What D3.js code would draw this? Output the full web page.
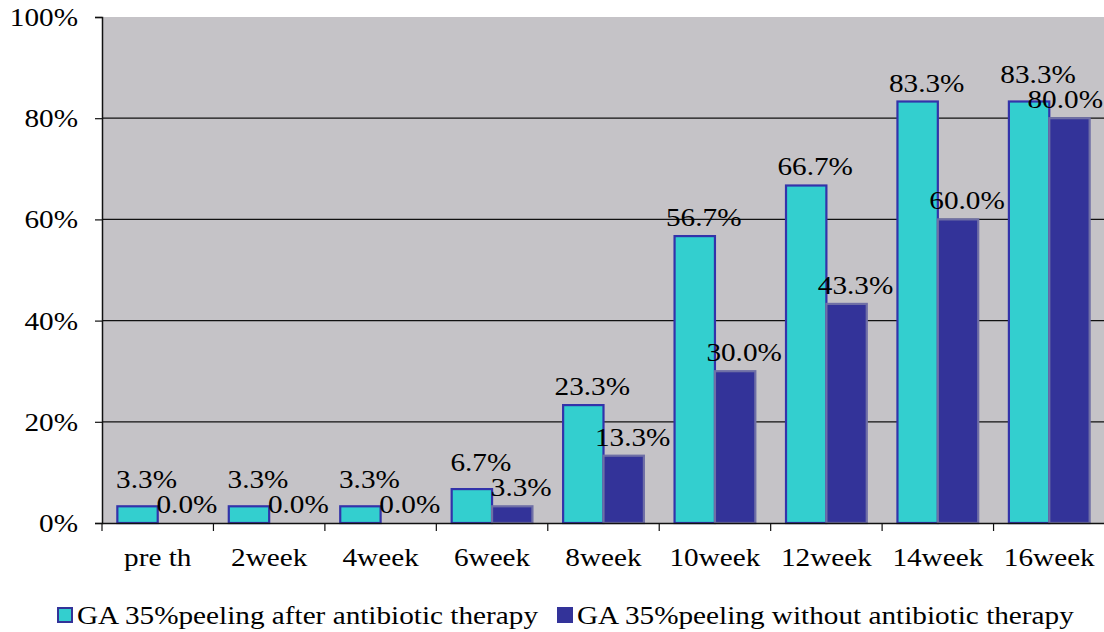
<!DOCTYPE html>
<html>
<head>
<meta charset="utf-8">
<script src="https://cdn.jsdelivr.net/npm/d3@7/dist/d3.min.js"></script>
<style>
  body { margin: 0; background: #fff; }
  svg text { font-family: "Liberation Serif", "Times New Roman", serif; fill: #000; }
</style>
</head>
<body>
<svg id="chart" width="1104" height="632"></svg>
<script>
// Response rate by visit for the two treatment groups
const categories = ["pre th", "2week", "4week", "6week", "8week", "10week", "12week", "14week", "16week"];
const afterAntibiotic = [3.3, 3.3, 3.3, 6.7, 23.3, 56.7, 66.7, 83.3, 83.3];
const withoutAntibiotic = [0.0, 0.0, 0.0, 3.3, 13.3, 30.0, 43.3, 60.0, 80.0];
const seriesNames = ["GA 35%peeling after antibiotic therapy", "GA 35%peeling without antibiotic therapy"];
const yTicks = [0, 20, 40, 60, 80, 100];

const W = 1104;
const svg = d3.select("#chart");
const margin = { left: 102, right: 1105, top: 17, bottom: 523 };
const FS = 25;    // font size of all lettering
const SX = 1.17;  // horizontal stretch of the serif lettering

const x = d3.scaleBand().domain(categories).range([margin.left, margin.right]).paddingInner(0).paddingOuter(0);
const y = d3.scaleLinear().domain([0, 100]).range([margin.bottom, margin.top]);
const inner = d3.scaleBand().domain([0, 1]).range([0, x.bandwidth()]).paddingInner(0).paddingOuter(0.38);

// plot area
svg.append("rect")
  .attr("x", margin.left).attr("y", margin.top)
  .attr("width", margin.right - margin.left).attr("height", margin.bottom - margin.top)
  .attr("fill", "#c5c3c7");

// gridlines
svg.append("g").selectAll("line")
  .data(yTicks.filter(t => t > 0 && t < 100))
  .join("line")
  .attr("x1", margin.left).attr("x2", margin.right)
  .attr("y1", d => y(d)).attr("y2", d => y(d))
  .attr("stroke", "#111").attr("stroke-width", 1.2);

const colors = ["#33cfcf", "#333399"];
const strokes = ["#3333aa", "#6f6fa6"];
const seriesData = [afterAntibiotic, withoutAntibiotic];

seriesData.forEach((vals, s) => {
  svg.append("g").selectAll("rect")
    .data(vals.map((v, i) => ({ v, c: categories[i] })))
    .join("rect")
    .attr("x", d => x(d.c) + inner(s))
    .attr("width", inner.bandwidth())
    .attr("y", d => y(d.v))
    .attr("height", d => y(0) - y(d.v))
    .attr("fill", colors[s])
    .attr("stroke", d => d.v > 0 ? strokes[s] : "none")
    .attr("stroke-width", 2.2);
});

// axes
const yAxis = d3.axisLeft(y).tickValues(yTicks).tickFormat(d => d + "%").tickSize(7).tickPadding(0);
const gy = svg.append("g").attr("transform", `translate(${margin.left},0)`).call(yAxis);
gy.attr("font-family", null).attr("font-size", null);
gy.select(".domain").attr("stroke", "#111").attr("stroke-width", 1.5);
gy.selectAll(".tick line").attr("stroke", "#111").attr("stroke-width", 1.2);
gy.selectAll(".tick text")
  .attr("font-size", FS)
  .attr("text-anchor", "end")
  .attr("x", null)
  .attr("dy", "0.34em")
  .attr("transform", `translate(-24,0) scale(${SX},1)`);

const xAxis = d3.axisBottom(x).tickSize(0).tickPadding(0);
const gx = svg.append("g").attr("transform", `translate(0,${margin.bottom})`).call(xAxis);
gx.attr("font-family", null).attr("font-size", null);
gx.select(".domain").attr("stroke", "#111").attr("stroke-width", 1.5);
gx.selectAll(".tick text")
  .attr("font-size", FS)
  .attr("y", null)
  .attr("dy", null)
  .attr("transform", `translate(0,43) scale(${SX},1)`);

// category separator ticks below the axis
svg.append("g").selectAll("line")
  .data(categories.map(c => x(c)).concat([margin.right]))
  .join("line")
  .attr("x1", d => d).attr("x2", d => d)
  .attr("y1", margin.bottom).attr("y2", margin.bottom + 8)
  .attr("stroke", "#111").attr("stroke-width", 1.2);

// data labels, lifting the first label when the pair would collide
const labelPos = categories.map((c, i) => {
  const gap = 10;
  let yA = y(afterAntibiotic[i]) - gap;
  const yW = y(withoutAntibiotic[i]) - gap;
  if (yW - yA < 22) yA = yW - 25;
  return [yA, yW];
});
seriesData.forEach((vals, s) => {
  svg.append("g").selectAll("text")
    .data(vals.map((v, i) => ({ v, i })))
    .join("text")
    .attr("text-anchor", "middle")
    .attr("font-size", FS)
    .text(d => d.v.toFixed(1) + "%")
    .attr("transform", function (d) {
      const half = this.getComputedTextLength() * SX / 2;
      let cx = x(categories[d.i]) + inner(s) + inner.bandwidth() / 2 + 9;
      cx = Math.min(cx, W - half - 1);
      return `translate(${cx},${labelPos[d.i][s]}) scale(${SX},1)`;
    });
});

// legend
const legendX = [57, 557];
seriesNames.forEach((name, s) => {
  const g = svg.append("g").attr("transform", `translate(${legendX[s]},607)`);
  g.append("rect").attr("x", 1).attr("y", 1).attr("width", 14).attr("height", 14)
    .attr("fill", colors[s]).attr("stroke", "#333399").attr("stroke-width", 2);
  g.append("text")
    .attr("font-size", FS)
    .attr("transform", `translate(20,17) scale(${SX},1)`)
    .text(name);
});
</script>
</body>
</html>
